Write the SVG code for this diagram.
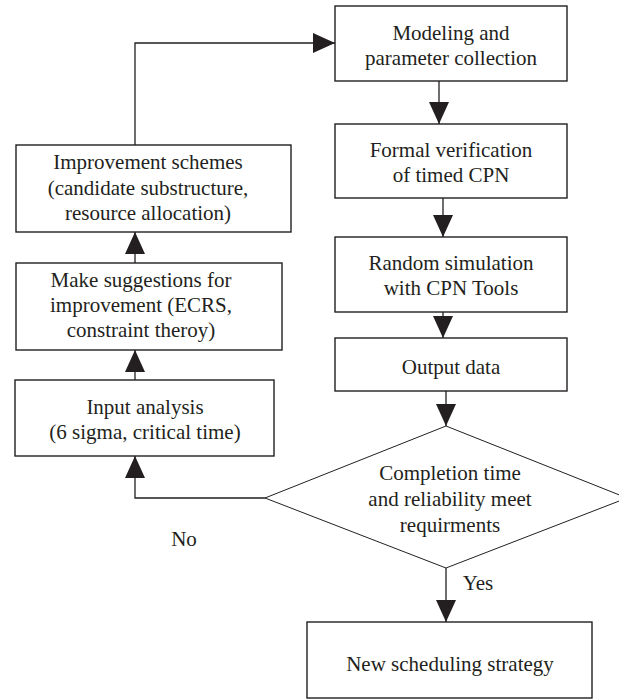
<svg xmlns="http://www.w3.org/2000/svg" width="619" height="699" viewBox="0 0 619 699">
<style>
.box{fill:#fff;stroke:#231f20;stroke-width:1.4}
.dia{fill:#fff;stroke:#231f20;stroke-width:1}
.t{font-family:"Liberation Serif","Times New Roman",serif;font-size:21px;fill:#231f20;text-anchor:middle}
.c{fill:none;stroke:#231f20;stroke-width:1.3}
</style>
<defs>
<marker id="ah" viewBox="0 0 22 20" refX="22" refY="10" markerWidth="22" markerHeight="20" markerUnits="userSpaceOnUse" orient="auto">
<path d="M0,0 L22,10 L0,20 z" fill="#231f20"/>
</marker>
</defs>
<rect width="619" height="699" fill="#fff"/>
<g id="connectors">
<path class="c" d="M135,145 V43 H335" marker-end="url(#ah)"/>
<path class="c" d="M439,81 V124" marker-end="url(#ah)"/>
<path class="c" d="M443,198 V237" marker-end="url(#ah)"/>
<path class="c" d="M443,312 V338" marker-end="url(#ah)"/>
<path class="c" d="M446,391 V426" marker-end="url(#ah)"/>
<path class="c" d="M446,568 V622" marker-end="url(#ah)"/>
<path class="c" d="M265,498 H135 V456" marker-end="url(#ah)"/>
<path class="c" d="M135,380 V350" marker-end="url(#ah)"/>
<path class="c" d="M135,263 V232" marker-end="url(#ah)"/>
<text class="t" x="184" y="546">No</text>
<text class="t" x="478" y="590">Yes</text>
</g>
<g id="modeling">
<rect class="box" x="335" y="6" width="232" height="75"/>
<text class="t" x="451" y="40">Modeling and</text>
<text class="t" x="451" y="65">parameter collection</text>
</g>
<g id="formal">
<rect class="box" x="335" y="124" width="232" height="74"/>
<text class="t" x="451" y="157">Formal verification</text>
<text class="t" x="451" y="182">of timed CPN</text>
</g>
<g id="random">
<rect class="box" x="335" y="237" width="232" height="75"/>
<text class="t" x="451" y="270">Random simulation</text>
<text class="t" x="451" y="295">with CPN Tools</text>
</g>
<g id="output">
<rect class="box" x="335" y="338" width="232" height="53"/>
<text class="t" x="451" y="374">Output data</text>
</g>
<g id="decision">
<polygon class="dia" points="446,426 627,498 446,568 265,498"/>
<text class="t" x="450" y="480">Completion time</text>
<text class="t" x="450" y="506">and reliability meet</text>
<text class="t" x="450" y="532">requirments</text>
</g>
<g id="newstrategy">
<rect class="box" x="307" y="622" width="285" height="76"/>
<text class="t" x="450" y="671">New scheduling strategy</text>
</g>
<g id="input">
<rect class="box" x="15" y="380" width="259" height="76"/>
<text class="t" x="145" y="414">Input analysis</text>
<text class="t" x="145" y="439">(6 sigma, critical time)</text>
</g>
<g id="suggestions">
<rect class="box" x="16" y="263" width="266" height="87"/>
<text class="t" x="141" y="287">Make suggestions for</text>
<text class="t" x="141" y="312">improvement (ECRS,</text>
<text class="t" x="141" y="337">constraint theroy)</text>
</g>
<g id="schemes">
<rect class="box" x="16" y="145" width="275" height="87"/>
<text class="t" x="148" y="169">Improvement schemes</text>
<text class="t" x="148" y="195">(candidate substructure,</text>
<text class="t" x="148" y="220">resource allocation)</text>
</g>
</svg>
